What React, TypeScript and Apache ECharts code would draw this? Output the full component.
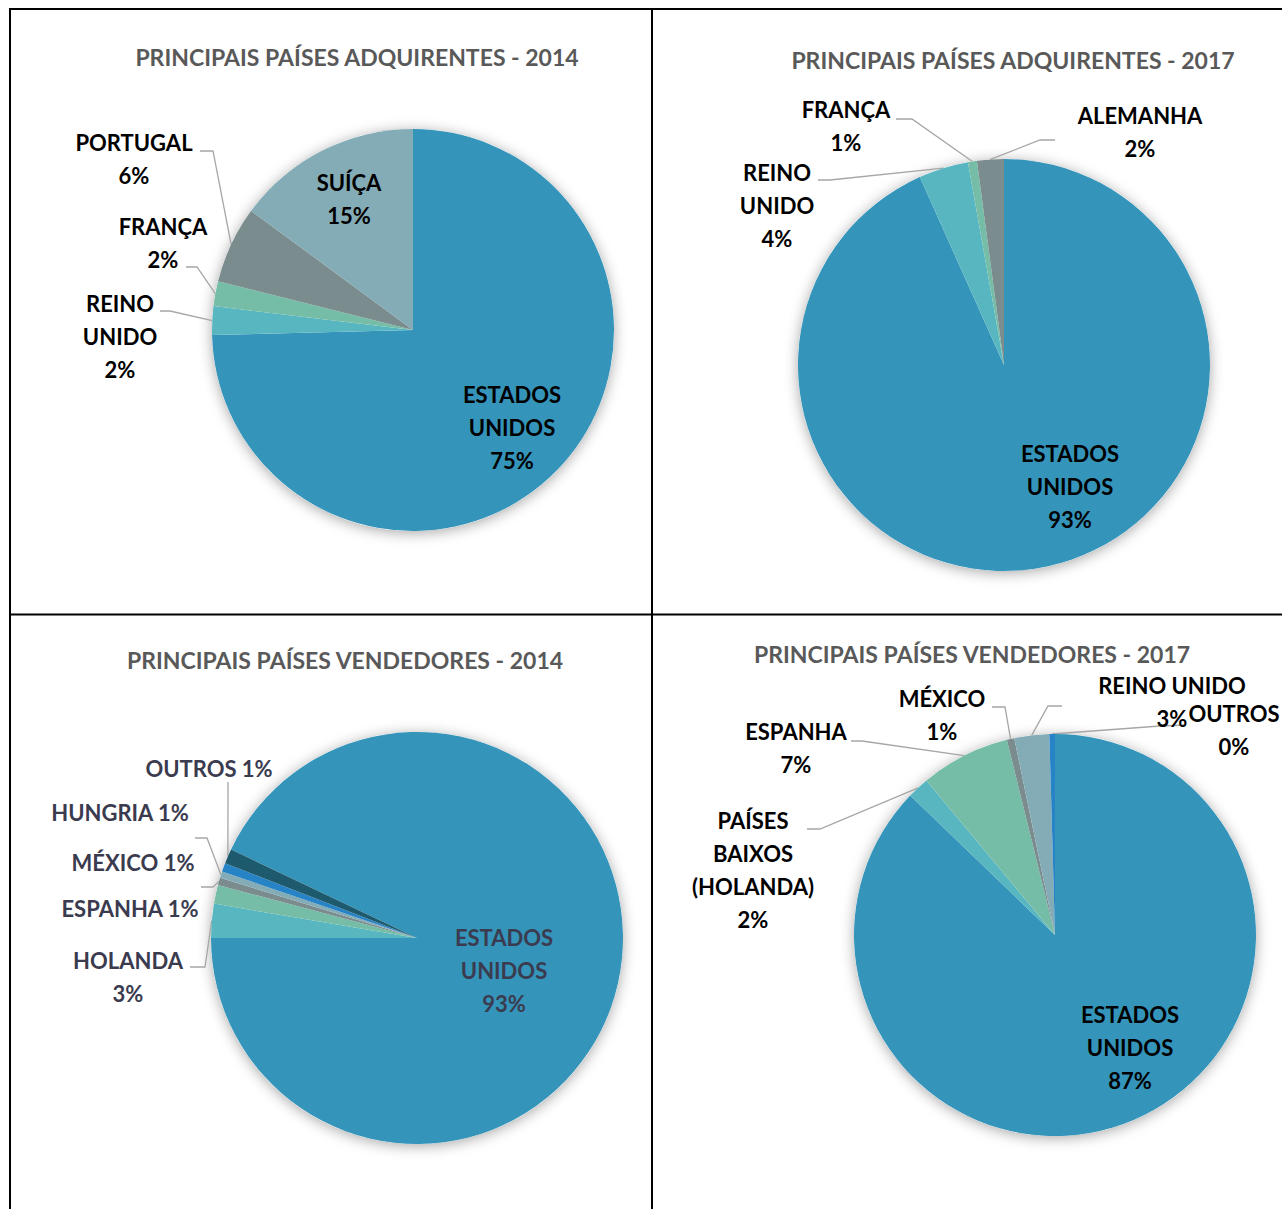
import React, { useEffect, useRef } from "react";
import * as echarts from "echarts";

// ---------- DATA ----------
const adq2014Names = ["ESTADOS UNIDOS", "REINO UNIDO", "FRANÇA", "PORTUGAL", "SUÍÇA"];
const adq2014Values = [74.6, 2.3, 2.0, 6.2, 14.9];

const adq2017Names = ["ESTADOS UNIDOS", "REINO UNIDO", "FRANÇA", "ALEMANHA"];
const adq2017Values = [93.3, 3.9, 0.7, 2.1];

const ven2014Names = ["ESTADOS UNIDOS", "HOLANDA", "ESPANHA", "MÉXICO", "HUNGRIA", "", "OUTROS"];
const ven2014Values = [92.93, 2.67, 1.47, 0.58, 0.51, 0.68, 1.16];

const ven2017Names = ["ESTADOS UNIDOS", "PAÍSES BAIXOS (HOLANDA)", "ESPANHA", "MÉXICO", "REINO UNIDO", "OUTROS"];
const ven2017Values = [87.2, 1.75, 7.2, 0.6, 2.8, 0.45];

const titles = [
  "PRINCIPAIS PAÍSES ADQUIRENTES - 2014",
  "PRINCIPAIS PAÍSES ADQUIRENTES - 2017",
  "PRINCIPAIS PAÍSES VENDEDORES - 2014",
  "PRINCIPAIS PAÍSES VENDEDORES - 2017",
];

// ---------- STYLE / LAYOUT ----------
const palette = ["#3494BA", "#58B6C0", "#75BDA7", "#7A8C8E", "#84ACB6", "#2683C6", "#1E5A6E"];
const FONT = "Lato";

type Lbl = { x: number; y: number; mode: string; inside?: boolean; line?: number[][] } | null;

type Panel = {
  title: string;
  titleX: number;
  titleY: number;
  center: number[];
  r: number;
  textColor: string;
  names: string[];
  values: number[];
  startAtNine?: boolean;
  labels: Lbl[];
};

const panels: Panel[] = [
  {
    title: titles[0],
    titleX: 357,
    titleY: 45,
    center: [413, 330],
    r: 201,
    textColor: "#000000",
    names: adq2014Names,
    values: adq2014Values,
    labels: [
      { x: 512, y: 427, mode: "stack", inside: true },
      { x: 120, y: 336, mode: "stack", line: [[170, 311], [160, 311]] },
      { x: 163, y: 243, mode: "two", line: [[197, 267], [186, 267]] },
      { x: 134, y: 159, mode: "two", line: [[213, 151], [200, 151]] },
      { x: 349, y: 199, mode: "two", inside: true },
    ],
  },
  {
    title: titles[1],
    titleX: 1013,
    titleY: 48,
    center: [1004, 365],
    r: 206,
    textColor: "#000000",
    names: adq2017Names,
    values: adq2017Values,
    labels: [
      { x: 1070, y: 486, mode: "stack", inside: true },
      { x: 777, y: 205, mode: "stack", line: [[830, 180], [818, 180]] },
      { x: 846, y: 126, mode: "two", line: [[912, 119], [896, 119]] },
      { x: 1140, y: 132, mode: "two", line: [[1040, 140], [1055, 140]] },
    ],
  },
  {
    title: titles[2],
    titleX: 345,
    titleY: 648,
    center: [417, 938],
    r: 206,
    textColor: "#3B3B4F",
    names: ven2014Names,
    values: ven2014Values,
    startAtNine: true,
    labels: [
      { x: 504, y: 970, mode: "stack", inside: true },
      { x: 128, y: 977, mode: "two", line: [[205, 967], [190, 967]] },
      { x: 130, y: 908, mode: "inline" },
      { x: 133, y: 862, mode: "inline", line: [[213, 887], [201, 887]] },
      { x: 120, y: 812, mode: "inline", line: [[207, 838], [195, 838]] },
      null,
      { x: 209, y: 768, mode: "inline", line: [[228, 790], [228, 782]] },
    ],
  },
  {
    title: titles[3],
    titleX: 972,
    titleY: 642,
    center: [1055, 935],
    r: 201,
    textColor: "#000000",
    names: ven2017Names,
    values: ven2017Values,
    labels: [
      { x: 1130, y: 1047, mode: "stack", inside: true },
      { x: 753, y: 870, mode: "stack", line: [[820, 829], [807, 829]] },
      { x: 796, y: 748, mode: "two", line: [[862, 741], [851, 741]] },
      { x: 942, y: 715, mode: "two", line: [[1005, 707], [992, 707]] },
      { x: 1172, y: 702, mode: "two", line: [[1048, 706], [1062, 706]] },
      { x: 1234, y: 730, mode: "two", line: [[1160, 726], [1186, 725]] },
    ],
  },
];

function formatLabel(name: string, pct: number, mode: string): string {
  const p = Math.round(pct) + "%";
  if (mode === "stack") return name.split(" ").join("\n") + "\n" + p;
  if (mode === "two") return name + "\n" + p;
  return name + " " + p;
}

function buildSeries(panel: Panel, idx: number): any[] {
  const total = panel.values.reduce((a, b) => a + b, 0);
  const startAngle = panel.startAtNine ? 180 + (360 * panel.values[0]) / total : 90;
  const backdrop = {
    type: "pie",
    id: "shadow" + idx,
    silent: true,
    z: 1,
    center: panel.center,
    radius: panel.r,
    label: { show: false },
    labelLine: { show: false },
    emphasis: { disabled: true },
    itemStyle: {
      color: "#ffffff",
      shadowBlur: 14,
      shadowOffsetY: 2,
      shadowColor: "rgba(0,0,0,0.35)",
    },
    data: [{ value: 1, name: "" }],
  };
  const main = {
    type: "pie",
    id: "pie" + idx,
    z: 2,
    center: panel.center,
    radius: panel.r,
    startAngle,
    clockwise: true,
    percentPrecision: 2,
    avoidLabelOverlap: false,
    emphasis: { disabled: true },
    label: {
      show: true,
      position: "outside",
      fontFamily: FONT,
      fontWeight: "bold",
      fontSize: 22,
      lineHeight: 33,
      color: panel.textColor,
      formatter: (p: any) => {
        const L = panel.labels[p.dataIndex];
        return formatLabel(p.name, p.percent, L ? L.mode : "two");
      },
    },
    labelLine: {
      show: true,
      length: 10,
      length2: 10,
      lineStyle: { color: "#A6A6A6", width: 1.3 },
    },
    labelLayout: (p: any) => {
      const L = panel.labels[p.dataIndex];
      if (!L) return {};
      const out: any = { x: L.x, y: L.y, align: "center", verticalAlign: "middle" };
      if (L.line && p.labelLinePoints && p.labelLinePoints.length) {
        out.labelLinePoints = [p.labelLinePoints[0], L.line[0], L.line[1]];
      }
      return out;
    },
    data: panel.names.map((n, i) => {
      const L = panel.labels[i];
      const item: any = {
        name: n,
        value: panel.values[i],
        itemStyle: { color: palette[i] },
      };
      if (!L) {
        item.label = { show: false };
        item.labelLine = { show: false };
      } else if (L.inside) {
        item.label = { position: "inside" };
        item.labelLine = { show: false };
      } else if (!L.line) {
        item.labelLine = { show: false };
      }
      return item;
    }),
  };
  return [backdrop, main];
}

export default function App() {
  const ref = useRef<HTMLDivElement>(null);
  useEffect(() => {
    if (!ref.current) return;
    const chart = echarts.init(ref.current, undefined, { renderer: "svg" });
    const stroke = { stroke: "#000000", lineWidth: 2 };
    chart.setOption({
      animation: false,
      backgroundColor: "#ffffff",
      title: panels.map((p) => ({
        text: p.title,
        left: p.titleX,
        top: p.titleY,
        textAlign: "center",
        padding: 0,
        textStyle: { fontFamily: FONT, fontWeight: "bold", fontSize: 23, color: "#595959" },
      })),
      graphic: [
        { type: "line", shape: { x1: 9, y1: 9, x2: 1282, y2: 9 }, style: stroke },
        { type: "line", shape: { x1: 10, y1: 9, x2: 10, y2: 1209 }, style: stroke },
        { type: "line", shape: { x1: 652, y1: 9, x2: 652, y2: 1209 }, style: stroke },
        { type: "line", shape: { x1: 9, y1: 614.5, x2: 1282, y2: 614.5 }, style: stroke },
      ],
      series: panels.flatMap((p, i) => buildSeries(p, i)),
    });
    return () => chart.dispose();
  }, []);
  return (
    <div
      ref={ref}
      style={{ position: "fixed", left: 0, top: 0, width: 1282, height: 1209, background: "#fff" }}
    />
  );
}
